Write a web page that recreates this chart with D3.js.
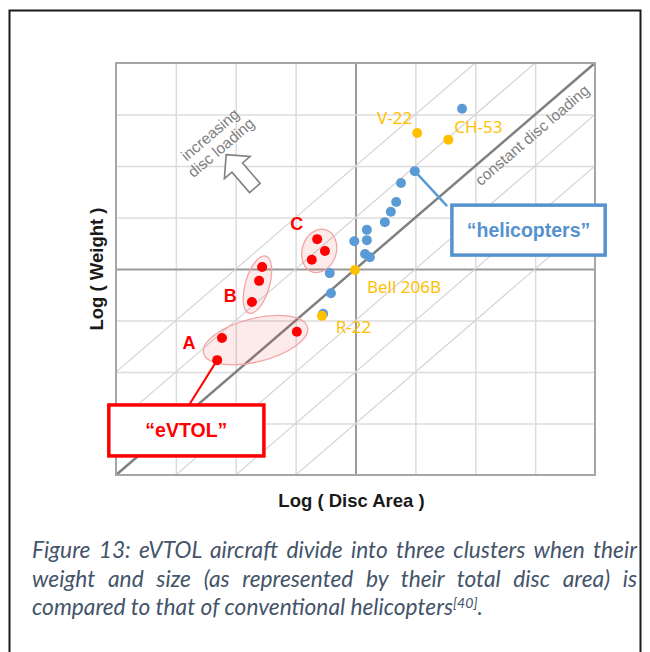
<!DOCTYPE html>
<html>
<head>
<meta charset="utf-8">
<script src="https://cdn.jsdelivr.net/npm/d3@7"></script>
<style>
body { margin: 0; background: #fff; }
</style>
</head>
<body>
<svg id="chart" width="650" height="652"></svg>
<script>
// values, in grid units (log disc area, log weight), 0..8 on both axes
const clusterA = [[1.69, 2.23], [1.77, 2.66], [3.02, 2.78]];
const clusterB = [[2.44, 4.04], [2.39, 3.77], [2.27, 3.36]];
const clusterC = [[3.36, 4.58], [3.49, 4.35], [3.27, 4.18]];
const clusterNames = ['A', 'B', 'C'];
const clusterLabelPos = [[1.22, 2.44], [1.91, 3.35], [3.02, 4.75]];

const helicopters = [
    [5.78, 7.11], [4.99, 5.90], [4.76, 5.67], [4.68, 5.30], [4.59, 5.11],
    [4.49, 4.91], [4.19, 4.76], [4.19, 4.56], [3.98, 4.54], [4.16, 4.29],
    [4.24, 4.23], [3.57, 3.92], [3.59, 3.53], [3.46, 3.13]
];

const namedCraft = ['V-22', 'CH-53', 'Bell 206B', 'R-22'];
const namedX = [5.03, 5.55, 3.99, 3.44];
const namedY = [6.64, 6.51, 3.98, 3.09];
const namedLabelPos = [[4.36, 6.81], [5.65, 6.64], [4.19, 3.53], [3.67, 2.76]];

const gridTicks = [1, 2, 3, 4, 5, 6, 7];
const loadingOffsets = [2, 1, -1, -2, -3];   // light lines of constant disc loading

const captionLines = [
    'Figure 13: eVTOL aircraft divide into three clusters when their',
    'weight and size (as represented by their total disc area) is',
    'compared to that of conventional helicopters'
];

const svg = d3.select('#chart');
const pLeft = 116, pRight = 595, pTop = 63, pBottom = 475;
const x = d3.scaleLinear().domain([0, 8]).range([pLeft, pRight]);
const y = d3.scaleLinear().domain([0, 8]).range([pBottom, pTop]);
const slopeDeg = Math.atan2(pBottom - pTop, pRight - pLeft) * 180 / Math.PI;

const RED = '#ff0000', BLUE = '#5b9bd5', GOLD = '#ffc000', GREY = '#808080';

// outer frame of the figure
svg.append('rect')
    .attr('x', 9.5).attr('y', 10.5)
    .attr('width', 631).attr('height', 700)
    .attr('fill', 'none').attr('stroke', '#1a1a1a').attr('stroke-width', 2);

// grid
const plot = svg.append('g');
plot.append('g')
    .attr('transform', `translate(0,${pBottom})`)
    .call(d3.axisBottom(x).tickValues(gridTicks).tickSize(-(pBottom - pTop)).tickFormat(''))
    .call(g => g.select('.domain').remove())
    .selectAll('line')
    .attr('stroke', d => d === 4 ? '#9a9a9a' : '#dcdcdc')
    .attr('stroke-width', d => d === 4 ? 2 : 1.5);

plot.append('g')
    .attr('transform', `translate(${pLeft},0)`)
    .call(d3.axisLeft(y).tickValues(gridTicks).tickSize(-(pRight - pLeft)).tickFormat(''))
    .call(g => g.select('.domain').remove())
    .selectAll('line')
    .attr('stroke', d => d === 4 ? '#9a9a9a' : '#dcdcdc')
    .attr('stroke-width', d => d === 4 ? 2 : 1.5);

// constant disc loading lines, clipped to the plot
svg.append('clipPath').attr('id', 'plotclip')
    .append('rect')
    .attr('x', pLeft).attr('y', pTop)
    .attr('width', pRight - pLeft).attr('height', pBottom - pTop);

plot.append('g').attr('clip-path', 'url(#plotclip)')
    .selectAll('line.loading')
    .data(loadingOffsets)
    .enter()
    .append('line')
    .attr('class', 'loading')
    .attr('x1', d => x(-4)).attr('y1', d => y(-4 + d))
    .attr('x2', d => x(12)).attr('y2', d => y(12 + d))
    .attr('stroke', '#d4d4d4')
    .attr('stroke-width', 1.2);

plot.append('line')
    .attr('x1', x(0)).attr('y1', y(0))
    .attr('x2', x(8)).attr('y2', y(8))
    .attr('stroke', GREY)
    .attr('stroke-width', 2.5);

plot.append('rect')
    .attr('x', pLeft).attr('y', pTop)
    .attr('width', pRight - pLeft).attr('height', pBottom - pTop)
    .attr('fill', 'none').attr('stroke', '#a6a6a6').attr('stroke-width', 2);

// annotation text along the diagonal
svg.append('text')
    .attr('transform', `translate(${x(6.8)},${y(6.8)}) rotate(${-slopeDeg})`)
    .attr('y', 19)
    .attr('text-anchor', 'middle')
    .attr('font-family', 'Liberation Sans, Arial, sans-serif')
    .attr('font-size', 15.5)
    .attr('fill', GREY)
    .text('constant disc loading');

const incr = svg.append('g')
    .attr('transform', `translate(${x(1.65)},${y(6.5)}) rotate(${-slopeDeg})`)
    .attr('font-family', 'Liberation Sans, Arial, sans-serif')
    .attr('font-size', 15.5)
    .attr('fill', GREY)
    .attr('text-anchor', 'middle');
incr.append('text').attr('y', -2).text('increasing');
incr.append('text').attr('y', 15).text('disc loading');

// hollow arrow pointing toward higher loading
const arrowPts = [[0, 0], [-17, -17], [-17, -7], [-44, -7], [-44, 7], [-17, 7], [-17, 17]];
svg.append('polygon')
    .attr('points', arrowPts.map(p => p.join(',')).join(' '))
    .attr('transform', `translate(${x(1.84)},${y(6.22)}) rotate(${-90 - slopeDeg})`)
    .attr('fill', '#fff')
    .attr('stroke', GREY)
    .attr('stroke-width', 1.6)
    .attr('stroke-linejoin', 'miter');

// cluster outlines built from the cluster points (principal axis + padding)
function clusterEllipse(pts, pad) {
    const p = pts.map(d => [x(d[0]), y(d[1])]);
    const mx = d3.mean(p, q => q[0]), my = d3.mean(p, q => q[1]);
    const sxx = d3.sum(p, q => (q[0] - mx) ** 2);
    const syy = d3.sum(p, q => (q[1] - my) ** 2);
    const sxy = d3.sum(p, q => (q[0] - mx) * (q[1] - my));
    const ang = 0.5 * Math.atan2(2 * sxy, sxx - syy);
    const u = [Math.cos(ang), Math.sin(ang)], n = [-Math.sin(ang), Math.cos(ang)];
    const pu = p.map(q => q[0] * u[0] + q[1] * u[1]);
    const pn = p.map(q => q[0] * n[0] + q[1] * n[1]);
    const cu = (d3.min(pu) + d3.max(pu)) / 2, cn = (d3.min(pn) + d3.max(pn)) / 2;
    return {
        cx: cu * u[0] + cn * n[0],
        cy: cu * u[1] + cn * n[1],
        rx: (d3.max(pu) - d3.min(pu)) / 2 + pad,
        ry: (d3.max(pn) - d3.min(pn)) / 2 + pad,
        deg: ang * 180 / Math.PI
    };
}

const clusters = [clusterA, clusterB, clusterC];
svg.selectAll('ellipse.cluster')
    .data(clusters.map(c => clusterEllipse(c, 11.5)))
    .enter()
    .append('ellipse')
    .attr('class', 'cluster')
    .attr('transform', d => `translate(${d.cx},${d.cy}) rotate(${d.deg})`)
    .attr('rx', d => d.rx)
    .attr('ry', d => d.ry)
    .attr('fill', 'rgba(240,60,60,0.10)')
    .attr('stroke', '#f2a5a5')
    .attr('stroke-width', 1.3);

// callout leaders
svg.append('line')
    .attr('x1', x(1.22)).attr('y1', y(1.36))
    .attr('x2', x(clusterA[0][0])).attr('y2', y(clusterA[0][1]))
    .attr('stroke', RED).attr('stroke-width', 2);

svg.append('line')
    .attr('x1', x(helicopters[1][0])).attr('y1', y(helicopters[1][1]))
    .attr('x2', x(5.53)).attr('y2', y(5.22))
    .attr('stroke', BLUE).attr('stroke-width', 2.5);

// points
svg.selectAll('circle.heli')
    .data(helicopters)
    .enter()
    .append('circle')
    .attr('class', 'heli')
    .attr('cx', d => x(d[0])).attr('cy', d => y(d[1]))
    .attr('r', 5)
    .attr('fill', BLUE);

svg.selectAll('circle.named')
    .data(namedCraft)
    .enter()
    .append('circle')
    .attr('class', 'named')
    .attr('cx', (d, i) => x(namedX[i])).attr('cy', (d, i) => y(namedY[i]))
    .attr('r', 5)
    .attr('fill', GOLD);

svg.selectAll('text.named')
    .data(namedCraft)
    .enter()
    .append('text')
    .attr('class', 'named')
    .attr('x', (d, i) => x(namedLabelPos[i][0]))
    .attr('y', (d, i) => y(namedLabelPos[i][1]))
    .attr('font-family', 'Noto Sans, sans-serif')
    .attr('font-size', 17)
    .attr('fill', GOLD)
    .text(d => d);

svg.selectAll('circle.evtol')
    .data(clusters.flat())
    .enter()
    .append('circle')
    .attr('class', 'evtol')
    .attr('cx', d => x(d[0])).attr('cy', d => y(d[1]))
    .attr('r', 5)
    .attr('fill', RED);

svg.selectAll('text.cluster')
    .data(clusterNames)
    .enter()
    .append('text')
    .attr('class', 'cluster')
    .attr('x', (d, i) => x(clusterLabelPos[i][0]))
    .attr('y', (d, i) => y(clusterLabelPos[i][1]))
    .attr('text-anchor', 'middle')
    .attr('font-family', 'Liberation Sans, Arial, sans-serif')
    .attr('font-weight', 'bold')
    .attr('font-size', 18)
    .attr('fill', RED)
    .text(d => d);

// callout boxes
function callout(x0, y0, x1, y1, color, label) {
    svg.append('rect')
        .attr('x', x(x0)).attr('y', y(y0))
        .attr('width', x(x1) - x(x0)).attr('height', y(y1) - y(y0))
        .attr('fill', '#fff')
        .attr('stroke', color)
        .attr('stroke-width', 3.5);
    svg.append('text')
        .attr('x', (x(x0) + x(x1)) / 2)
        .attr('y', (y(y0) + y(y1)) / 2 + 7)
        .attr('text-anchor', 'middle')
        .attr('font-family', 'Liberation Sans, Arial, sans-serif')
        .attr('font-weight', 'bold')
        .attr('font-size', 19.5)
        .attr('fill', color)
        .text(label);
}
callout(-0.12, 1.36, 2.47, 0.37, RED, '\u201ceVTOL\u201d');
callout(5.61, 5.24, 8.17, 4.27, '#5592cf', '\u201chelicopters\u201d');

// axis titles
svg.append('text')
    .attr('x', (pLeft + pRight) / 2 - 4)
    .attr('y', 507)
    .attr('text-anchor', 'middle')
    .attr('font-family', 'Liberation Sans, Arial, sans-serif')
    .attr('font-weight', 'bold')
    .attr('font-size', 18.5)
    .attr('fill', '#1a1a1a')
    .text('Log ( Disc Area )');

svg.append('text')
    .attr('transform', `translate(103,${(pTop + pBottom) / 2}) rotate(-90)`)
    .attr('text-anchor', 'middle')
    .attr('font-family', 'Liberation Sans, Arial, sans-serif')
    .attr('font-weight', 'bold')
    .attr('font-size', 18.5)
    .attr('fill', '#1a1a1a')
    .text('Log ( Weight )');

// caption, justified like the source document
const capX = 32, capW = 605, capY = [558, 587, 615];
const cap = svg.append('g')
    .attr('font-family', 'Lato, Noto Sans, sans-serif')
    .attr('font-style', 'italic')
    .attr('fill', '#44546a');

const probe = cap.append('text').attr('font-size', 20).text(captionLines[2] + '[40].');
const capSize = 20 * 466 / probe.node().getComputedTextLength();
probe.remove();

captionLines.forEach((line, i) => {
    const t = cap.append('text')
        .attr('x', capX).attr('y', capY[i])
        .attr('font-size', capSize)
        .text(line);
    if (i < 2) {
        const gaps = line.split(' ').length - 1;
        const extra = (capW - t.node().getComputedTextLength()) / gaps;
        t.attr('word-spacing', extra);
    } else {
        t.append('tspan').attr('font-size', capSize * 0.62).attr('dy', -7).text('[40]');
        t.append('tspan').attr('dy', 7).text('.');
    }
});
</script>
</body>
</html>
